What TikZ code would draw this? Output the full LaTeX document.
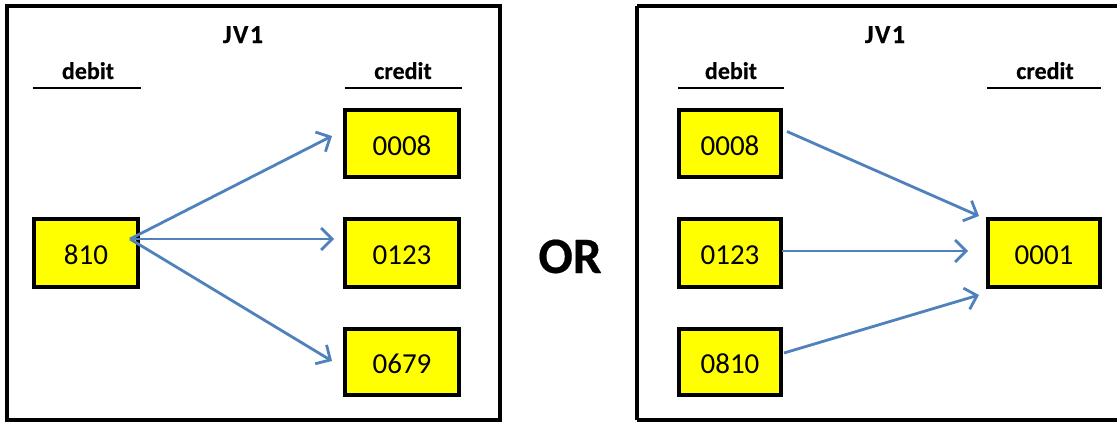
\documentclass[tikz,border=0pt]{standalone}
\usepackage{fontspec}
\setmainfont{Carlito}
\newfontface\headfont[FakeBold=0.4]{Carlito Bold}
\newfontface\titlefont[FakeBold=0.4,LetterSpace=6]{Carlito Bold}
\usetikzlibrary{arrows.meta}
\definecolor{arrowblue}{HTML}{4F81BD}
\definecolor{boxyellow}{HTML}{FFFF00}
\tikzset{
  frame/.style={draw=black, line width=4pt},
  acct/.style={draw=black, fill=boxyellow, line width=4pt, inner sep=0pt,
    font=\fontsize{29}{29}\selectfont, text height=23pt, text depth=0pt},
  head/.style={font=\headfont\fontsize{24}{24}\selectfont, anchor=base, inner sep=0pt},
  title/.style={font=\titlefont\fontsize{26}{26}\selectfont, anchor=base, inner sep=0pt},
  rule/.style={draw=black, line width=2.5pt},
  flow/.style={draw=arrowblue, line width=2.8pt, -{Straight Barb[length=11pt,width=22pt,line width=2.8pt]}}
}
\begin{document}
\begin{tikzpicture}[x=1pt,y=-1pt]
\useasboundingbox (0,0) rectangle (1117,423);
% left panel
\draw[frame] (7,6) rectangle (500,420);
\node[title] (t1) at (243,43) {JV1};
\node[head] (d1) at (88,79) {debit};
\node[head] (c1) at (403,79) {credit};
\coordinate (d1a) at (33,88); \coordinate (d1b) at (141,88);
\coordinate (c1a) at (345,88); \coordinate (c1b) at (462,88);
\draw[rule] (d1a) -- (d1b);
\draw[rule] (c1a) -- (c1b);
\node[acct, minimum width=104pt, minimum height=68pt] (a810) at (86,253) {810};
\node[acct, minimum width=114pt, minimum height=67pt] (l0008) at (402,143.5) {0008};
\node[acct, minimum width=114pt, minimum height=68pt] (l0123) at (402,253) {0123};
\node[acct, minimum width=114pt, minimum height=66pt] (l0679) at (402,362) {0679};
\draw[flow] ([shift={(-10,-14)}]a810.east) -- ([shift={(-11,-7.5)}]l0008.west);
\draw[flow] ([shift={(-10,-14)}]a810.east) -- ([shift={(-9,-14)}]l0123.west);
\draw[flow] ([shift={(-10,-14)}]a810.east) -- ([shift={(-11,-1)}]l0679.west);
% OR
\node[font=\headfont\fontsize{51}{51}\selectfont, anchor=base, inner sep=0pt] (or) at (570,273) {OR};
% right panel
\draw[frame] (637,6) -- (1125,6) (637,420) -- (1125,420) (637,6) -- (637,420);
\node[title] (t2) at (885,43) {JV1};
\node[head] (d2) at (731,79) {debit};
\node[head] (c2) at (1045,79) {credit};
\coordinate (d2a) at (678,88); \coordinate (d2b) at (784,88);
\coordinate (c2a) at (987,88); \coordinate (c2b) at (1101,88);
\draw[rule] (d2a) -- (d2b);
\draw[rule] (c2a) -- (c2b);
\node[acct, minimum width=102pt, minimum height=67pt] (r0008) at (730,143.5) {0008};
\node[acct, minimum width=102pt, minimum height=68pt] (r0123) at (730,253) {0123};
\node[acct, minimum width=102pt, minimum height=66pt] (r0810) at (730,362) {0810};
\node[acct, minimum width=112pt, minimum height=68pt] (r0001) at (1044,253) {0001};
\draw[flow] ([shift={(4,-12)}]r0008.east) -- ([shift={(-7,-1)}]r0001.north west);
\draw[flow] ([shift={(-1,-2)}]r0123.east) -- ([shift={(-18,-2)}]r0001.west);
\draw[flow] ([shift={(1,-9)}]r0810.east) -- ([shift={(-7,6)}]r0001.south west);
\end{tikzpicture}
\end{document}
